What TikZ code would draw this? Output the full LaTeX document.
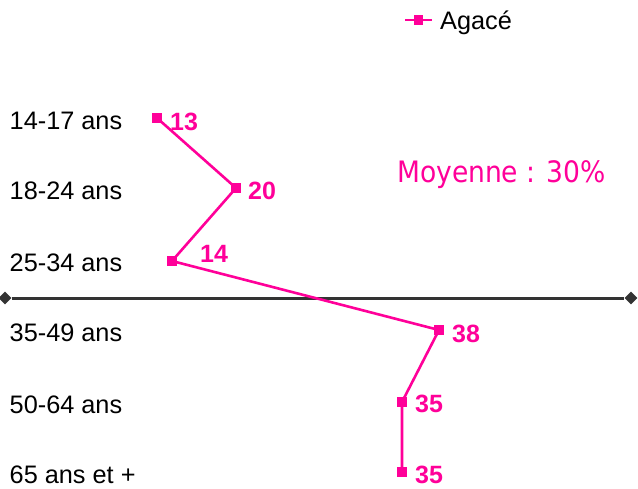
\documentclass[tikz,border=0pt]{standalone}
\usepackage{fontspec}
\setmainfont{Liberation Sans}
\newfontfamily\moyfont{DejaVu Sans Condensed}
\usepackage{tikz}
\usetikzlibrary{shapes.geometric}
\definecolor{agace}{RGB}{255,0,153}
\definecolor{axe}{RGB}{51,51,51}

\begin{document}
\begin{tikzpicture}[x=1pt,y=-1pt,
	every text node part/.style={align=left},
	agelabel/.style={anchor=base west,inner sep=0pt,font=\fontsize{25.3}{29}\selectfont},
	valeur/.style={anchor=base west,inner sep=0pt,text=agace,font=\fontsize{25}{29}\selectfont\bfseries},
	pointcarre/.style={fill=agace,rectangle,minimum size=9.5pt,inner sep=0pt},
	pointaxe/.style={fill=axe,diamond,minimum width=13pt,minimum height=13pt,inner sep=0pt}]
		
		\useasboundingbox (0,0) rectangle (638,488);
		
		% axe central
		\node[pointaxe] (g) at (5,298) {};
		\node[pointaxe] (d) at (631,298) {};
		\draw[axe, line width=3pt] (g) -- (d);
		
		% tranches d'age
		\node[agelabel] (t1) at (9.5,129.5) {14-17 ans};
		\node[agelabel] (t2) at (9.5,199.5) {18-24 ans};
		\node[agelabel] (t3) at (9.5,271.5) {25-34 ans};
		\node[agelabel] (t4) at (9.5,341.5) {35-49 ans};
		\node[agelabel] (t5) at (9.5,413.5) {50-64 ans};
		\node[agelabel] (t6) at (9.5,483.5) {65 ans et +};
		
		% courbe
		\node[pointcarre] (p1) at (157,118) {};
		\node[pointcarre] (p2) at (236,188) {};
		\node[pointcarre] (p3) at (172,261) {};
		\node[pointcarre] (p4) at (439,330) {};
		\node[pointcarre] (p5) at (402,402) {};
		\node[pointcarre] (p6) at (402,472) {};
		\draw[agace, line width=2.6pt] (p1.center) -- (p2.center) -- (p3.center) -- (p4.center) -- (p5.center) -- (p6.center);
		
		\node[valeur] (v1) at (170,130) {13};
		\node[valeur] (v2) at (248,199) {20};
		\node[valeur] (v3) at (200,262) {14};
		\node[valeur] (v4) at (452,342) {38};
		\node[valeur] (v5) at (415,412) {35};
		\node[valeur] (v6) at (415,483) {35};
		
		% legende
		\coordinate (l0) at (405,20);
		\coordinate (l1) at (432,20);
		\draw[agace, line width=2.6pt] (l0) -- (l1);
		\node[pointcarre] (lm) at (418.5,20) {};
		\node[agelabel] (leg) at (440,29.5) {Agacé};
		
		\node[anchor=base west, inner sep=0pt, text=agace, font=\moyfont\fontsize{29.5}{34}\selectfont] (moy) at (397,182) {Moyenne : 30\%};
		
		\end{tikzpicture}
\end{document}
